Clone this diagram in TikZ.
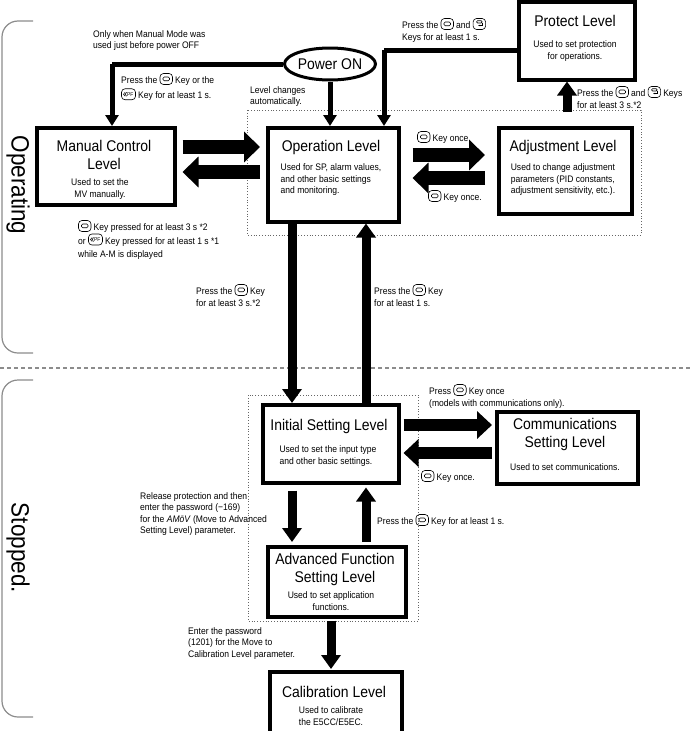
\documentclass[tikz,border=0pt]{standalone}
\usepackage{fontspec}
\setmainfont[FakeStretch=0.9]{Liberation Sans}
\usetikzlibrary{arrows.meta,shapes.geometric,calc}
\newcommand{\mkey}{\tikz[baseline=-1pt,line width=.6pt]{\draw[rounded corners=3.5pt](0pt,-2pt) rectangle (12.5pt,9pt);\draw[rounded corners=1.2pt](3pt,1.8pt) rectangle (9.5pt,5.5pt);}}
\newcommand{\rkey}{\tikz[baseline=-1pt,line width=.6pt]{\draw[rounded corners=3.5pt](0pt,-2pt) rectangle (12.5pt,9pt);\draw[rounded corners=1pt](3.5pt,4.5pt) rectangle (9pt,6.8pt);\draw[-{Stealth[length=2pt]}](9pt,4.5pt)--(9pt,2pt)--(5pt,2pt);}}
\newcommand{\pfkey}{\tikz[baseline=-1pt,line width=.6pt]{\draw[rounded corners=3.5pt](0pt,-2pt) rectangle (14pt,9pt);\draw[line width=.5pt](3.6pt,5.5pt)--(2pt,3.5pt)--(3.6pt,1.5pt) (5.2pt,5.5pt)--(3.6pt,3.5pt)--(5.2pt,1.5pt);\node[inner sep=0pt,font=\fontsize{5.5}{5.5}\selectfont,anchor=west] at (5.3pt,3.5pt){PF};}}
\begin{document}
\begin{tikzpicture}[x=1pt,y=-1pt,
  box/.style={draw,line width=3.5pt,anchor=north west,align=center,inner sep=2pt},
  ttl/.style={font=\fontsize{15.5}{18}\selectfont},
  sf/.style={font=\fontsize{9.5}{11.5}\selectfont},
  sm/.style={font=\fontsize{9.5}{11.5}\selectfont,align=left,inner sep=0pt,anchor=north west},
  conn/.style={line width=5pt,-{Triangle[width=13pt,length=11pt]}},
  vfat/.style={line width=9pt,-{Triangle[width=19pt,length=14pt]}},
  hfat/.style={line width=14pt,-{Triangle[width=30pt,length=16pt]}},
  mfat/.style={line width=12pt,-{Triangle[width=27pt,length=15pt]}},
  side/.style={draw=black!45,line width=1.2pt,rounded corners=16pt},
  dotbox/.style={draw=black!60,dotted,line width=0.8pt}]
\useasboundingbox (0,0) rectangle (700,731);
% side labels
\draw[side] (33,353) -- (2,353) -- (2,21) -- (33,21);
\draw[side] (33,717) -- (2,717) -- (2,380) -- (33,380);
\node[rotate=-90,font=\fontsize{25}{25}\selectfont] (lop) at (18,185) {Operating};
\node[rotate=-90,font=\fontsize{25}{25}\selectfont] (lst) at (18,548) {Stopped.};
\draw[black!45,line width=2pt,dash pattern=on 4pt off 3pt] (0,368) -- (690,368);
% dotted groups
\draw[dotbox] (247,110) rectangle (641,235);
\draw[dotbox] (248,395) rectangle (418,621);
% nodes
\node[draw,ellipse,line width=3pt,minimum width=80pt,minimum height=32pt,inner sep=0pt,ttl] (pon) at (330,64) {Power ON};
\node[box,minimum width=116pt,minimum height=78pt] (prot) at (517,0) {};
\node[ttl] at (575,21) {Protect Level};
\node[sf,align=center] at (575,51) {Used to set protection\\for operations.};
\node[box,minimum width=138pt,minimum height=77pt] (man) at (35,126) {};
\node[ttl,align=center] at (104,155) {Manual Control\\Level};
\node[sf,align=center] at (100,189) {Used to set the\\MV manually.};
\node[box,minimum width=131pt,minimum height=94pt] (op) at (266,126) {};
\node[ttl] at (331,147) {Operation Level};
\node[sf,align=left] at (331,180) {Used for SP, alarm values,\\and other basic settings\\and monitoring.};
\node[box,minimum width=133pt,minimum height=86pt] (adj) at (497,126) {};
\node[ttl] at (563,147) {Adjustment Level};
\node[sf,align=left] at (563,180) {Used to change adjustment\\parameters (PID constants,\\adjustment sensitivity, etc.).};
\node[box,minimum width=136pt,minimum height=78pt] (ini) at (261,403) {};
\node[ttl] at (329,426) {Initial Setting Level};
\node[sf,align=left] at (328,456) {Used to set the input type\\and other basic settings.};
\node[box,minimum width=141pt,minimum height=72pt] (com) at (495,410) {};
\node[ttl,align=center] at (565,434) {Communications\\Setting Level};
\node[sf] at (565,467) {Used to set communications.};
\node[box,minimum width=138pt,minimum height=70pt] (adv) at (266,545) {};
\node[ttl,align=center] at (335,569) {Advanced Function\\Setting Level};
\node[sf,align=center] at (331,601) {Used to set application\\functions.};
\node[box,minimum width=132pt,minimum height=64pt] (cal) at (268,670) {};
\node[ttl] at (334,692) {Calibration Level};
\node[sf,align=center] at (331,716) {Used to calibrate\\the E5CC/E5EC.};
% connectors
\draw[line width=5pt] (pon.west) -- (112,64) coordinate (c1);
\draw[conn] (c1) -- (man.north -| c1);
\draw[conn] (pon.south) -- (op.north -| pon.south);
\draw[line width=5pt] (prot.west |- 0,50) -- (384,50) coordinate (c2);
\draw[conn] (c2) -- (op.north -| c2);
\coordinate (c3) at (567,112);
\draw[vfat] (c3) -- (prot.south -| c3);
\draw[hfat,shorten <=6pt,shorten >=6pt] (man.east |- 0,147) -- (op.west |- 0,147);
\draw[hfat,shorten <=6pt,shorten >=6pt] (op.west |- 0,172) -- (man.east |- 0,172);
\draw[hfat,shorten <=12pt,shorten >=12pt] (op.east |- 0,155) -- (adj.west |- 0,155);
\draw[hfat,shorten <=12pt,shorten >=12pt] (adj.west |- 0,178) -- (op.east |- 0,178);
\draw[vfat] (op.south -| 292,0) -- (ini.north -| 292,0);
\draw[vfat] (ini.north -| 366,0) -- (op.south -| 366,0);
\draw[mfat,shorten <=3pt,shorten >=3pt] (ini.east |- 0,425) -- (com.west |- 0,425);
\draw[mfat,shorten <=3pt,shorten >=3pt] (com.west |- 0,453) -- (ini.east |- 0,453);
\draw[vfat,shorten <=6pt,shorten >=3pt] (ini.south -| 292,0) -- (adv.north -| 292,0);
\draw[vfat,shorten <=3pt,shorten >=3pt] (adv.north -| 366,0) -- (ini.south -| 366,0);
\draw[vfat,shorten <=2pt,shorten >=1pt] (adv.south -| 331,0) -- (cal.north -| 331,0);
% labels
\node[sm] (t1) at (93,30) {Only when Manual Mode was\\used just before power OFF};
\node[sm] (t2) at (121,73) {Press the \mkey\ Key or the\\[2pt]\pfkey\ Key for at least 1 s.};
\node[sm] (t3) at (250,86) {Level changes\\automatically.};
\node[sm] (t4) at (402,18) {Press the \mkey\ and \rkey\\Keys for at least 1 s.};
\node[sm] (t5) at (577,86) {Press the \mkey\ and \rkey\ Keys\\for at least 3 s.*2};
\node[sm] (t6) at (417,131) {\mkey\ Key once.};
\node[sm] (t7) at (428,190) {\mkey\ Key once.};
\node[sm,font=\fontsize{9.5}{13.5}\selectfont] (t8) at (78,220) {\mkey\ Key pressed for at least 3 s *2\\or \pfkey\ Key pressed for at least 1 s *1\\while A-M is displayed};
\node[sm] (t9) at (196,284) {Press the \mkey\ Key\\for at least 3 s.*2};
\node[sm] (t10) at (374,284) {Press the \mkey\ Key\\for at least 1 s.};
\node[sm] (t11) at (429,384) {Press \mkey\ Key once\\(models with communications only).};
\node[sm] (t12) at (421,470) {\mkey\ Key once.};
\node[sm] (t13) at (140,492) {Release protection and then\\enter the password (−169)\\for the \textit{AMōV} (Move to Advanced\\Setting Level) parameter.};
\node[sm] (t14) at (377,514) {Press the \mkey\ Key for at least 1 s.};
\node[sm] (t15) at (188,627) {Enter the password\\(1201) for the Move to\\Calibration Level parameter.};
\end{tikzpicture}
\end{document}
